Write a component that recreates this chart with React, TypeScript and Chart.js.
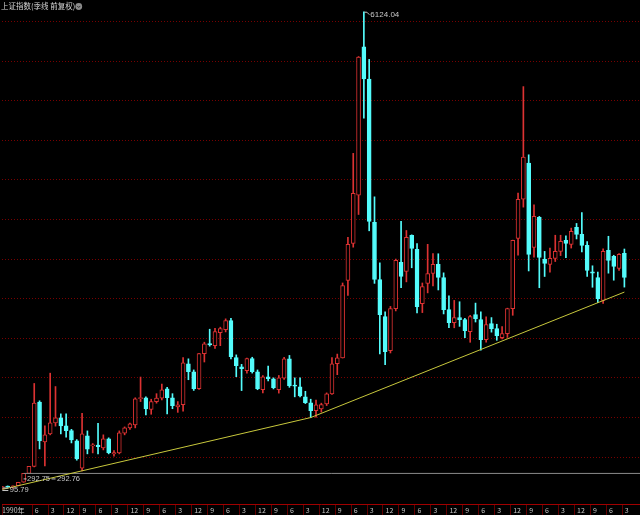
import React, { useEffect, useRef } from "react";
import { Chart, registerables } from "chart.js";

Chart.register(...registerables);

// ---- data -----------------------------------------------------------------
const TITLE = "上证指数(季线 前复权)";

const quarters = [
  "1990Q4",
  "1991Q1","1991Q2","1991Q3","1991Q4","1992Q1","1992Q2","1992Q3","1992Q4",
  "1993Q1","1993Q2","1993Q3","1993Q4","1994Q1","1994Q2","1994Q3","1994Q4",
  "1995Q1","1995Q2","1995Q3","1995Q4","1996Q1","1996Q2","1996Q3","1996Q4",
  "1997Q1","1997Q2","1997Q3","1997Q4","1998Q1","1998Q2","1998Q3","1998Q4",
  "1999Q1","1999Q2","1999Q3","1999Q4","2000Q1","2000Q2","2000Q3","2000Q4",
  "2001Q1","2001Q2","2001Q3","2001Q4","2002Q1","2002Q2","2002Q3","2002Q4",
  "2003Q1","2003Q2","2003Q3","2003Q4","2004Q1","2004Q2","2004Q3","2004Q4",
  "2005Q1","2005Q2","2005Q3","2005Q4","2006Q1","2006Q2","2006Q3","2006Q4",
  "2007Q1","2007Q2","2007Q3","2007Q4","2008Q1","2008Q2","2008Q3","2008Q4",
  "2009Q1","2009Q2","2009Q3","2009Q4","2010Q1","2010Q2","2010Q3","2010Q4",
  "2011Q1","2011Q2","2011Q3","2011Q4","2012Q1","2012Q2","2012Q3","2012Q4",
  "2013Q1","2013Q2","2013Q3","2013Q4","2014Q1","2014Q2","2014Q3","2014Q4",
  "2015Q1","2015Q2","2015Q3","2015Q4","2016Q1","2016Q2","2016Q3","2016Q4",
  "2017Q1","2017Q2","2017Q3","2017Q4","2018Q1","2018Q2","2018Q3","2018Q4",
  "2019Q1","2019Q2","2019Q3","2019Q4","2020Q1",
];

const opens = [
  96.05,
  127.61, 120.19, 137.56, 180.92, 293.74, 382.0, 1195, 690,
  792, 932, 995, 893, 834, 703, 360, 767,
  640, 650, 615, 729, 540, 552, 800, 868,
  906, 1236, 1248, 1100, 1200, 1243, 1360, 1248,
  1134, 1160, 1678, 1577, 1362, 1805, 1932, 1906,
  2071, 2109, 2222, 1755, 1640, 1590, 1742, 1577,
  1349, 1514, 1488, 1349, 1497, 1741, 1400, 1387,
  1261, 1185, 1084, 1109, 1172, 1298, 1678, 1752,
  2729, 3198, 3806, 5680, 5274, 3463, 2742, 2274,
  1843, 2375, 2958, 2843, 3299, 3122, 2438, 2692,
  2818, 2932, 2767, 2362, 2198, 2261, 2236, 2084,
  2299, 2236, 1983, 2185, 2122, 2008, 2059, 2375,
  3261, 3755, 4211, 3148, 3527, 2996, 2932, 3008,
  3097, 3236, 3185, 3400, 3312, 3173, 2840, 2767,
  2477, 3110, 3034, 2882, 3072,
];

const highs = [
  127.61,
  134.87, 137.6, 180.92, 292.75, 382.5, 1429.01, 1210, 893,
  1558.95, 1390, 1045, 1044, 850, 720, 1052.94, 830,
  670, 926, 780, 742, 580, 830, 880, 930,
  1248, 1510, 1260, 1230, 1300, 1422, 1380, 1300,
  1200, 1756, 1740, 1600, 1810, 1950, 2114, 2125,
  2140, 2245, 2250, 1790, 1670, 1748, 1760, 1600,
  1530, 1649, 1500, 1530, 1760, 1783, 1500, 1500,
  1330, 1230, 1220, 1180, 1310, 1757, 1800, 2698,
  3274, 4335, 5558, 6124.04, 5522, 3786, 2952, 2333,
  2402, 3000, 3478, 3361, 3306, 3197, 2698, 3186,
  3068, 3067, 2826, 2536, 2478, 2461, 2250, 2290,
  2444, 2334, 2270, 2261, 2177, 2146, 2380, 3239,
  3835, 5178.19, 4317, 3684, 3539, 3097, 3140, 3301,
  3301, 3295, 3391, 3450, 3587, 3220, 2915, 2836,
  3129, 3288, 3048, 3069, 3127,
];

const lows = [
  95.79,
  119.0, 104.96, 136.0, 180.0, 292.76, 375, 602, 386.85,
  780, 890, 792, 750, 678, 460, 325.89, 540,
  552, 540, 590, 540, 512, 540, 780, 850,
  868, 1200, 1033, 1040, 1180, 1220, 1043, 1110,
  1064, 1080, 1476, 1341, 1355, 1700, 1900, 1870,
  1906, 2080, 1740, 1514, 1339, 1560, 1560, 1350,
  1311, 1460, 1360, 1307, 1480, 1380, 1260, 1259,
  1175, 998.23, 1004, 1067, 1150, 1290, 1540, 1750,
  2541, 3150, 3563, 4778, 3357, 2693, 1802, 1664.93,
  1814, 2345, 2639, 2712, 2890, 2319, 2324, 2573,
  2661, 2610, 2307, 2134, 2132, 2150, 2008, 1949,
  2205, 1849, 1950, 2077, 1974, 1991, 2010, 2290,
  3049, 3656, 2850, 3023, 2638, 2780, 2833, 2969,
  3044, 3017, 3139, 3254, 3091, 2782, 2644, 2449,
  2440, 2822, 2733, 2857, 2646,
];

const closes = [
  127.61,
  120.19, 137.56, 180.92, 292.75, 381.2, 1180, 704, 780.39,
  932, 995, 893, 834, 716, 476, 792, 600,
  650, 630, 729, 555, 555, 805, 868, 918,
  1236, 1250, 1109, 1200, 1243, 1350, 1248, 1147,
  1160, 1690, 1577, 1362, 1805, 1930, 1915, 2083,
  2121, 2222, 1767, 1653, 1615, 1742, 1577, 1362,
  1514, 1488, 1375, 1500, 1741, 1400, 1396, 1273,
  1185, 1084, 1160, 1161, 1298, 1678, 1752, 2664,
  3185, 3831, 5552, 5274, 3476, 2742, 2299, 1831,
  2375, 2983, 2780, 3273, 3134, 2400, 2653, 2818,
  2932, 2767, 2362, 2198, 2261, 2236, 2096, 2274,
  2248, 1983, 2173, 2122, 2033, 2059, 2375, 3236,
  3755, 4287, 3059, 3540, 3021, 2945, 3008, 3097,
  3223, 3198, 3350, 3312, 3173, 2856, 2821, 2501,
  3097, 2983, 2907, 3059, 2767,
];

// x-axis tick labels (quarter index -> label)
const tickIndex = [
  0, 6, 9, 12, 15, 18, 21, 24, 27, 30, 33, 36, 39, 42, 45, 48, 51, 54, 57, 60,
  63, 66, 69, 72, 75, 78, 81, 84, 87, 90, 93, 96, 99, 102, 105, 108, 111, 114, 117,
];
const tickLabels = [
  "1990年", "6", "3", "12", "9", "6", "3", "12", "9", "6", "3", "12", "9", "6", "3", "12", "9",
  "6", "3", "12", "9", "6", "3", "12", "9", "6", "3", "12", "9", "6", "3", "12", "9",
  "6", "3", "12", "9", "6", "3",
];

// horizontal grid values
const gridValues = [500, 1000, 1500, 2000, 2500, 3000, 3500, 4000, 4500, 5000, 5500, 6000];

// trend line (quarter index / value)
const trendIndex = [0, 58, 117];
const trendValues = [91, 998.23, 2583];

// horizontal reference line
const refStartIndex = 4;
const refValue = 292.76;
const refLabelA = "292.75";
const refLabelB = "292.76";

// ---- style ----------------------------------------------------------------
const X_MIN = -0.0625;
const X_MAX = 119.9375;
const Y_MIN = -93.4;
const Y_MAX = 6272;
const UP = "#dc3232";
const DOWN = "#54fcfc";
const GRID = "#780000";
const SEP = "#600000";
const AXIS = "#a00000";
const TREND = "#c8c83c";
const TEXT = "#c8c8c8";
const NUM_FONT = "'Liberation Sans', 'DejaVu Sans', sans-serif";
const CJK_FONT = "'Noto Sans CJK SC', 'Liberation Sans', sans-serif";

const annotations = {
  id: "annotations",
  afterDraw(chart: any) {
    const { ctx, scales, chartArea } = chart;
    const x = scales.x;
    const y = scales.y;
    ctx.save();

    // separators in the time-axis strip
    ctx.strokeStyle = SEP;
    ctx.lineWidth = 1;
    ctx.beginPath();
    for (let k = 0; k < x.ticks.length; k++) {
      const tx = Math.round(x.getPixelForTick(k)) + 0.5;
      ctx.moveTo(tx, chartArea.bottom + 1);
      ctx.lineTo(tx, chart.height);
    }
    ctx.stroke();

    ctx.textBaseline = "middle";
    ctx.textAlign = "left";

    // title
    ctx.font = `7.5px ${CJK_FONT}`;
    ctx.fillStyle = "#d2d2d2";
    ctx.fillText(TITLE, 1, 6.5);
    const tw = ctx.measureText(TITLE).width;
    const cx = tw + 4.5;
    const cy = 6.5;
    ctx.beginPath();
    ctx.arc(cx, cy, 3.4, 0, Math.PI * 2);
    ctx.fillStyle = "#8c8c8c";
    ctx.fill();
    ctx.beginPath();
    ctx.moveTo(cx - 1.6, cy - 0.6);
    ctx.lineTo(cx, cy + 1.0);
    ctx.lineTo(cx + 1.6, cy - 0.6);
    ctx.strokeStyle = "#202020";
    ctx.lineWidth = 0.9;
    ctx.stroke();

    ctx.strokeStyle = TEXT;
    ctx.fillStyle = TEXT;
    ctx.lineWidth = 1;

    // highest point
    const maxH = Math.max(...highs);
    const pi = highs.indexOf(maxH);
    const px = x.getPixelForValue(pi);
    const py = y.getPixelForValue(maxH);
    ctx.beginPath();
    ctx.moveTo(px + 0.5, py + 0.5);
    ctx.lineTo(px + 3, py + 0.5);
    ctx.lineTo(px + 5.5, py + 3);
    ctx.stroke();
    ctx.font = `8px ${NUM_FONT}`;
    ctx.fillText(maxH.toFixed(2), px + 6.5, py + 3);

    // lowest point
    const minL = Math.min(...lows);
    const li = lows.indexOf(minL);
    const lx = x.getPixelForValue(li);
    const ly = y.getPixelForValue(minL);
    ctx.beginPath();
    ctx.moveTo(lx, ly - 1);
    ctx.lineTo(lx + 6, ly - 1);
    ctx.moveTo(lx, ly + 1.5);
    ctx.lineTo(lx + 6, ly + 1.5);
    ctx.stroke();
    ctx.font = `7.5px ${NUM_FONT}`;
    ctx.fillText(minL.toFixed(2), lx + 7.5, ly + 1);

    // reference line labels
    const rx = x.getPixelForValue(refStartIndex);
    const ry = y.getPixelForValue(refValue) + 5.5;
    ctx.beginPath();
    ctx.moveTo(rx, ry);
    ctx.lineTo(rx + 3, ry);
    ctx.stroke();
    ctx.fillText(refLabelA, rx + 3.5, ry);
    const wa = ctx.measureText(refLabelA).width;
    const dx = rx + 3.5 + wa + 1.5;
    ctx.beginPath();
    ctx.moveTo(dx, ry);
    ctx.lineTo(dx + 4, ry);
    ctx.stroke();
    ctx.fillText(refLabelB, dx + 5.5, ry);

    ctx.restore();
  },
};

export default function App() {
  const ref = useRef<HTMLCanvasElement>(null);

  useEffect(() => {
    const canvas = ref.current;
    if (!canvas) return;
    const up = quarters.map((_, i) => closes[i] >= opens[i]);

    const chart = new Chart(canvas, {
      type: "bar",
      data: {
        datasets: [
          {
            type: "line",
            label: "trend",
            data: trendIndex.map((v, k) => ({ x: v, y: trendValues[k] })),
            borderColor: TREND,
            borderWidth: 1,
            pointRadius: 0,
            order: 0,
          } as any,
          {
            type: "line",
            label: "ref",
            data: [
              { x: refStartIndex, y: refValue },
              { x: X_MAX, y: refValue },
            ],
            borderColor: "#8a8a8a",
            borderWidth: 1,
            pointRadius: 0,
            order: 1,
          } as any,
          {
            type: "bar",
            label: "body",
            data: quarters.map((_, i) => ({ x: i, y: [opens[i], closes[i]] })),
            backgroundColor: up.map((u) => (u ? "#000000" : DOWN)),
            borderColor: up.map((u) => (u ? UP : DOWN)),
            borderWidth: 1,
            borderSkipped: false,
            barThickness: 4,
            minBarLength: 1,
            grouped: false,
            order: 2,
          } as any,
          {
            type: "bar",
            label: "wick",
            data: quarters.map((_, i) => ({ x: i, y: [lows[i], highs[i]] })),
            backgroundColor: up.map((u) => (u ? UP : DOWN)),
            borderWidth: 0,
            barThickness: 1,
            grouped: false,
            order: 3,
          } as any,
        ],
      },
      options: {
        animation: false,
        responsive: false,
        devicePixelRatio: 1,
        events: [],
        layout: { padding: { left: 0, right: 0, top: 0, bottom: -2 } },
        plugins: {
          legend: { display: false },
          tooltip: { enabled: false },
          title: { display: false },
        },
        scales: {
          x: {
            type: "linear",
            min: X_MIN,
            max: X_MAX,
            offset: false,
            position: "bottom",
            afterBuildTicks: (s: any) => {
              s.ticks = tickIndex.map((i) => ({ value: i === 0 ? X_MIN : i - 0.5 }));
            },
            ticks: {
              autoSkip: false,
              maxRotation: 0,
              minRotation: 0,
              align: "start",
              padding: 2,
              color: "#c4c4c4",
              font: { family: CJK_FONT, size: 7, lineHeight: "9px" },
              callback: (_v: any, idx: number) =>
                idx === 0 ? tickLabels[0] : "  " + tickLabels[idx],
            },
            grid: {
              display: true,
              drawOnChartArea: false,
              drawTicks: false,
              color: GRID,
              offset: false,
              lineWidth: 1,
            },
            border: { display: true, color: AXIS, width: 1 },
          },
          y: {
            type: "linear",
            min: Y_MIN,
            max: Y_MAX,
            afterBuildTicks: (s: any) => {
              s.ticks = gridValues.map((v) => ({ value: v }));
            },
            ticks: { display: false },
            grid: { color: GRID, drawTicks: false, lineWidth: 1 },
            border: { display: false, dash: [1, 2] },
          },
        },
      } as any,
      plugins: [annotations],
    });

    return () => chart.destroy();
  }, []);

  return (
    <div
      style={{
        position: "fixed",
        left: 0,
        top: 0,
        width: 640,
        height: 515,
        background: "#000",
        overflow: "hidden",
      }}
    >
      <canvas ref={ref} width={640} height={515} style={{ display: "block" }} />
    </div>
  );
}
